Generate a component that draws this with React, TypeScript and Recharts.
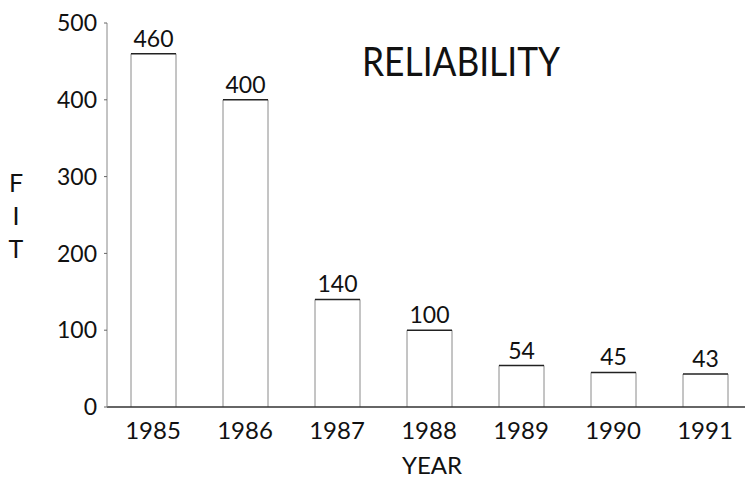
import React from "react";
import { BarChart, Bar, XAxis, YAxis, LabelList } from "recharts";

const years = ["1985", "1986", "1987", "1988", "1989", "1990", "1991"];
const fitValues = [460, 400, 140, 100, 54, 45, 43];
const yTicks = [0, 100, 200, 300, 400, 500];
const titleText = "RELIABILITY";
const yLabelLetters = ["F", "I", "T"];
const xLabelText = "YEAR";

const data = years.map((y, i) => ({ year: y, fit: fitValues[i] }));

const FONT = "Lato, 'Noto Sans', sans-serif";
const INK = "#111";
const W = 400;

const BarShape = (props: any) => {
  const { x, y, width, height } = props;
  return (
    <g>
      <rect x={x} y={y} width={width} height={height} fill="#fff" stroke="none" />
      <path
        d={`M${x},${y + height} L${x},${y} M${x + width},${y} L${x + width},${y + height}`}
        stroke="#8a8a8a"
        strokeWidth={1}
        fill="none"
      />
      <line x1={x} y1={y} x2={x + width} y2={y} stroke="#222" strokeWidth={1.6} />
    </g>
  );
};

const FitLabel = () => (
  <g>
    {yLabelLetters.map((l, i) => (
      <text
        key={l}
        x={16}
        y={192 + i * 33}
        textAnchor="middle"
        fontSize={25}
        fontFamily={FONT}
        fontWeight={W}
        fill={INK}
      >
        {l}
      </text>
    ))}
  </g>
);

const YearLabel = (props: any) => {
  const vb = props.viewBox || {};
  return (
    <text
      x={vb.x + vb.width / 2 + 3}
      y={474}
      textAnchor="middle"
      fontSize={24}
      fontFamily={FONT}
      fontWeight={W}
      fill={INK}
    >
      {xLabelText}
    </text>
  );
};

export default function App() {
  return (
    <div
      style={{
        position: "absolute",
        left: 0,
        top: 0,
        width: 745,
        height: 480,
        overflow: "hidden",
        background: "#fff",
      }}
    >
      <BarChart
        width={760}
        height={480}
        data={data}
        margin={{ top: 23, right: 9, bottom: 3, left: 47 }}
      >
        <XAxis
          dataKey="year"
          height={70}
          tickSize={0}
          tickMargin={15}
          axisLine={{ stroke: "#333", strokeWidth: 1.6 }}
          tick={{ fontSize: 24, fontFamily: FONT, fontWeight: W, fill: INK }}
          label={<YearLabel />}
        />
        <YAxis
          width={60}
          domain={[0, 500]}
          ticks={yTicks}
          interval={0}
          tickSize={3}
          tickMargin={7}
          axisLine={{ stroke: "#888", strokeWidth: 1 }}
          tickLine={{ stroke: "#666" }}
          tick={{ fontSize: 23, fontFamily: FONT, fontWeight: W, fill: INK }}
          label={<FitLabel />}
        />
        <Bar dataKey="fit" barSize={45} shape={<BarShape />} isAnimationActive={false}>
          <LabelList
            dataKey="fit"
            position="top"
            offset={7}
            fontSize={23}
            fontFamily={FONT}
            fontWeight={W}
            fill={INK}
          />
        </Bar>
      </BarChart>
      <svg
        width={745}
        height={480}
        style={{ position: "absolute", left: 0, top: 0, pointerEvents: "none" }}
      >
        <text
          x={461}
          y={76}
          textAnchor="middle"
          fontSize={41}
          fontFamily={FONT}
          fontWeight={W}
          fill={INK}
          textLength={198}
          lengthAdjust="spacingAndGlyphs"
        >
          {titleText}
        </text>
      </svg>
    </div>
  );
}
